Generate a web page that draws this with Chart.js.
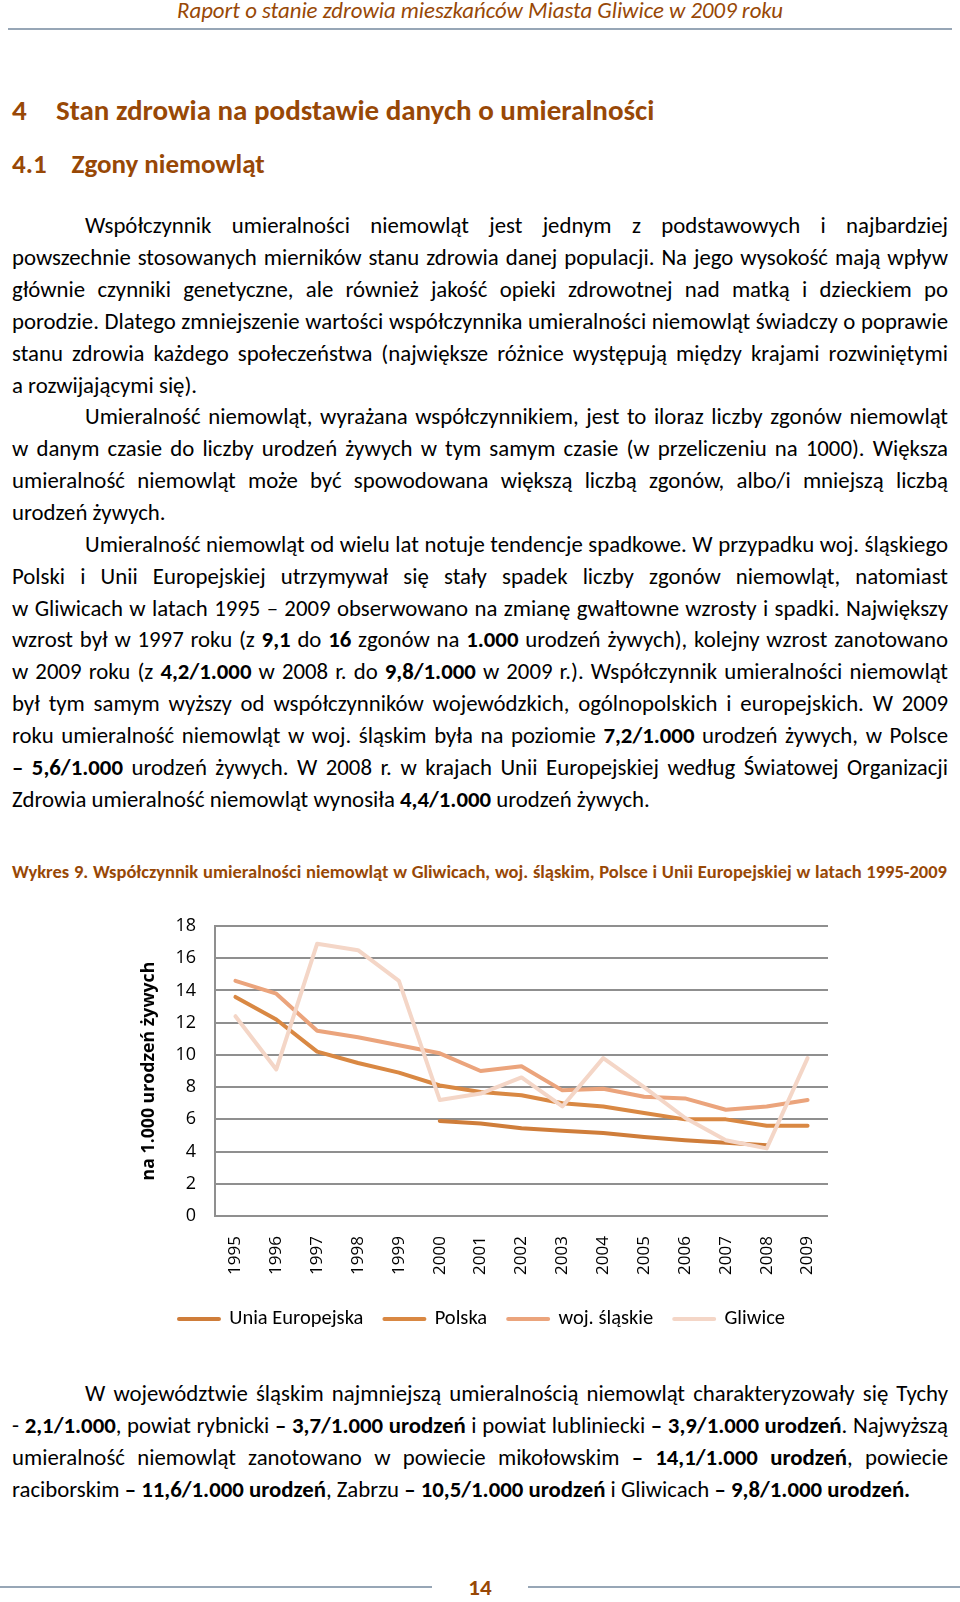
<!DOCTYPE html>
<html lang="pl">
<head>
<meta charset="UTF-8">
<title>Wykres 9 - umieralność niemowląt</title>
<script src="https://cdn.jsdelivr.net/npm/chart.js"></script>
<style>
  html, body { margin: 0; padding: 0; background: #fff; }
  #page { position: relative; width: 960px; height: 1602px; overflow: hidden; font-family: Carlito, Lato, sans-serif; color: #000; }
  .abs { position: absolute; }
  .hdr { left: 0; width: 960px; top: -2.8px; text-align: center; font-style: italic; font-size: 22.8px; line-height: 26px; color: #984806; }
  .rule { background: #97a6b6; }
  h1, h2 { margin: 0; position: absolute; left: 12px; line-height: 30px; font-weight: bold; color: #984806; white-space: nowrap; }
  h1 { font-size: 29px; }
  h2 { font-size: 27px; }
  .num { display: inline-block; }
  .txt { left: 12px; width: 936px; font-size: 22.8px; line-height: 31.85px; }
  .ln { white-space: nowrap; }
  .ind { padding-left: 73px; }
  .cap { left: 12px; width: 935px; top: 861.4px; font-size: 18.5px; line-height: 22px; font-weight: bold; color: #984806; }
  #chartbox { left: 136px; top: 900px; width: 702px; height: 439.25px; }
  .pnum { left: 0; width: 960px; top: 1574.25px; text-align: center; font-size: 23px; line-height: 26px; font-weight: bold; color: #984806; }
</style>
</head>
<body>
<div id="page">

  <div class="abs hdr">Raport o stanie zdrowia mieszkańców Miasta Gliwice w 2009 roku</div>
  <div class="abs rule" style="left:8px;top:28px;width:944px;height:2px"></div>

  <h1 style="top:94.75px"><span class="num" style="width:44px">4</span>Stan zdrowia na podstawie danych o umieralności</h1>
  <h2 style="top:149.25px"><span class="num" style="width:59.5px">4.1</span>Zgony niemowląt</h2>

  <div class="abs txt" style="top:210.4px">
    <div class="ln j ind">Współczynnik umieralności niemowląt jest jednym z podstawowych i najbardziej</div>
    <div class="ln j">powszechnie stosowanych mierników stanu zdrowia danej populacji. Na jego wysokość mają wpływ</div>
    <div class="ln j">głównie czynniki genetyczne, ale również jakość opieki zdrowotnej nad matką i dzieckiem po</div>
    <div class="ln j">porodzie. Dlatego zmniejszenie wartości współczynnika umieralności niemowląt świadczy o poprawie</div>
    <div class="ln j">stanu zdrowia każdego społeczeństwa (największe różnice występują między krajami rozwiniętymi</div>
    <div class="ln">a rozwijającymi się).</div>
    <div class="ln j ind">Umieralność niemowląt, wyrażana współczynnikiem, jest to iloraz liczby zgonów niemowląt</div>
    <div class="ln j">w danym czasie do liczby urodzeń żywych w tym samym czasie (w przeliczeniu na 1000). Większa</div>
    <div class="ln j">umieralność niemowląt może być spowodowana większą liczbą zgonów, albo/i mniejszą liczbą</div>
    <div class="ln">urodzeń żywych.</div>
    <div class="ln j ind">Umieralność niemowląt od wielu lat notuje tendencje spadkowe. W przypadku woj. śląskiego</div>
    <div class="ln j">Polski i Unii Europejskiej utrzymywał się stały spadek liczby zgonów niemowląt, natomiast</div>
    <div class="ln j">w Gliwicach w latach 1995 – 2009 obserwowano na zmianę gwałtowne wzrosty i spadki. Największy</div>
    <div class="ln j">wzrost był w 1997 roku (z <b>9,1</b> do <b>16</b> zgonów na <b>1.000</b> urodzeń żywych), kolejny wzrost zanotowano</div>
    <div class="ln j">w 2009 roku (z <b>4,2/1.000</b> w 2008 r. do <b>9,8/1.000</b> w 2009 r.). Współczynnik umieralności niemowląt</div>
    <div class="ln j">był tym samym wyższy od współczynników wojewódzkich, ogólnopolskich i europejskich. W 2009</div>
    <div class="ln j">roku umieralność niemowląt w woj. śląskim była na poziomie <b>7,2/1.000</b> urodzeń żywych, w Polsce</div>
    <div class="ln j"><b>– 5,6/1.000</b> urodzeń żywych. W 2008 r. w krajach Unii Europejskiej według Światowej Organizacji</div>
    <div class="ln">Zdrowia umieralność niemowląt wynosiła <b>4,4/1.000</b> urodzeń żywych.</div>
  </div>

  <div class="abs cap"><div class="ln j">Wykres 9. Współczynnik umieralności niemowląt w Gliwicach, woj. śląskim, Polsce i Unii Europejskiej w latach 1995-2009</div></div>

  <div id="chartbox" class="abs"><canvas id="chart"></canvas></div>

  <div class="abs txt" style="top:1378.4px">
    <div class="ln j ind">W województwie śląskim najmniejszą umieralnością niemowląt charakteryzowały się Tychy</div>
    <div class="ln j">- <b>2,1/1.000</b>, powiat rybnicki <b>– 3,7/1.000 urodzeń</b> i powiat lubliniecki <b>– 3,9/1.000 urodzeń</b>. Najwyższą</div>
    <div class="ln j">umieralność niemowląt zanotowano w powiecie mikołowskim <b>– 14,1/1.000 urodzeń</b>, powiecie</div>
    <div class="ln">raciborskim <b>– 11,6/1.000 urodzeń</b>, Zabrzu <b>– 10,5/1.000 urodzeń</b> i Gliwicach <b>– 9,8/1.000 urodzeń.</b></div>
  </div>

  <div class="abs rule" style="left:0;top:1585.5px;width:432px;height:2.5px"></div>
  <div class="abs rule" style="left:528px;top:1585.5px;width:432px;height:2.5px"></div>
  <div class="abs pnum">14</div>
</div>

<script>
    // dane z wykresu (na 1.000 urodzeń żywych)
    const lata = ['1995', '1996', '1997', '1998', '1999', '2000', '2001', '2002',
                  '2003', '2004', '2005', '2006', '2007', '2008', '2009'];
    const uniaEuropejska = [null, null, null, null, null, 5.9, 5.75, 5.45, 5.3, 5.15, 4.9, 4.7, 4.55, 4.4, null];
    const polska = [13.6, 12.2, 10.2, 9.5, 8.9, 8.1, 7.7, 7.5, 7.0, 6.8, 6.4, 6.0, 6.0, 5.6, 5.6];
    const wojSlaskie = [14.6, 13.8, 11.5, 11.1, 10.6, 10.1, 9.0, 9.3, 7.8, 7.9, 7.4, 7.3, 6.6, 6.8, 7.2];
    const gliwice = [12.4, 9.1, 16.9, 16.5, 14.6, 7.2, 7.6, 8.6, 6.8, 9.8, 8.0, 6.1, 4.7, 4.2, 9.8];
    const yMax = 18;
    const yKrok = 2;

    // wyjustowanie wierszy tekstu (kazdy wiersz osobno, jak w oryginale)
    document.querySelectorAll('.ln').forEach(function (el) {
        el.innerHTML = '<span>' + el.innerHTML.trim() + '</span>';
        const span = el.firstElementChild;
        const pad = parseFloat(getComputedStyle(el).paddingLeft) || 0;
        const avail = el.clientWidth - pad;
        const natural = span.getBoundingClientRect().width;
        const spaces = (el.textContent.trim().replace(/\s+/g, ' ').match(/ /g) || []).length;
        if (el.classList.contains('j') && natural <= avail && spaces > 0) {
            el.style.wordSpacing = ((avail - natural) / spaces) + 'px';
        } else if (natural > avail) {
            span.style.display = 'inline-block';
            span.style.transformOrigin = 'left center';
            span.style.transform = 'scaleX(' + (avail / natural) + ')';
        }
    });

    // osie same nie dokladaja marginesow - obszar wykresu ustawia layout.padding
    function bezMarginesow(s) {
        s.paddingTop = 0;
        s.paddingBottom = 0;
        s.paddingLeft = 0;
        s.paddingRight = 0;
    }

    const ctx = document.getElementById('chart').getContext('2d');
    const chart = new Chart(ctx, {
        type: 'line',
        data: {
            labels: lata,
            datasets: [
                { label: 'Unia Europejska', data: uniaEuropejska, borderColor: '#cf7d3a', backgroundColor: '#cf7d3a', order: 3 },
                { label: 'Polska', data: polska, borderColor: '#d98843', backgroundColor: '#d98843', order: 2 },
                { label: 'woj. śląskie', data: wojSlaskie, borderColor: '#eba47c', backgroundColor: '#eba47c', order: 1 },
                { label: 'Gliwice', data: gliwice, borderColor: '#f4d6c7', backgroundColor: '#f4d6c7', order: 0 }
            ]
        },
        options: {
            responsive: true,
            maintainAspectRatio: false,
            animation: false,
            layout: { padding: { top: 26, right: 10, bottom: 0, left: 0 } },
            elements: {
                line: { borderWidth: 4, tension: 0, borderCapStyle: 'round', borderJoinStyle: 'round' },
                point: { radius: 0, hoverRadius: 0 }
            },
            plugins: {
                legend: {
                    position: 'bottom',
                    labels: {
                        boxWidth: 40,
                        boxHeight: 0,
                        padding: 21,
                        color: '#000',
                        font: { family: 'Carlito, Lato', size: 20.5 },
                        sort: (a, b) => a.datasetIndex - b.datasetIndex
                    }
                },
                tooltip: { enabled: false }
            },
            scales: {
                x: {
                    offset: true,
                    grid: { display: false, drawTicks: false },
                    border: { display: false },
                    ticks: { minRotation: 90, maxRotation: 90, padding: 20, color: '#000', font: { family: 'Open Sans', size: 17 } },
                    afterFit: s => { bezMarginesow(s); s.height = 71.75; }
                },
                y: {
                    min: 0,
                    max: yMax,
                    ticks: { stepSize: yKrok, padding: 19, color: '#000', font: { family: 'Open Sans', size: 18 } },
                    grid: { color: '#8f8f8f', lineWidth: 2, drawTicks: false },
                    border: { display: true, color: '#8f8f8f', width: 2 },
                    title: {
                        display: true,
                        text: 'na 1.000 urodzeń żywych',
                        color: '#000',
                        font: { family: 'Open Sans', size: 17.7, weight: 'bold' },
                        padding: { top: 2, bottom: 0 }
                    },
                    afterFit: s => { bezMarginesow(s); s.width = 79; }
                }
            }
        }
    });
</script>
</body>
</html>
